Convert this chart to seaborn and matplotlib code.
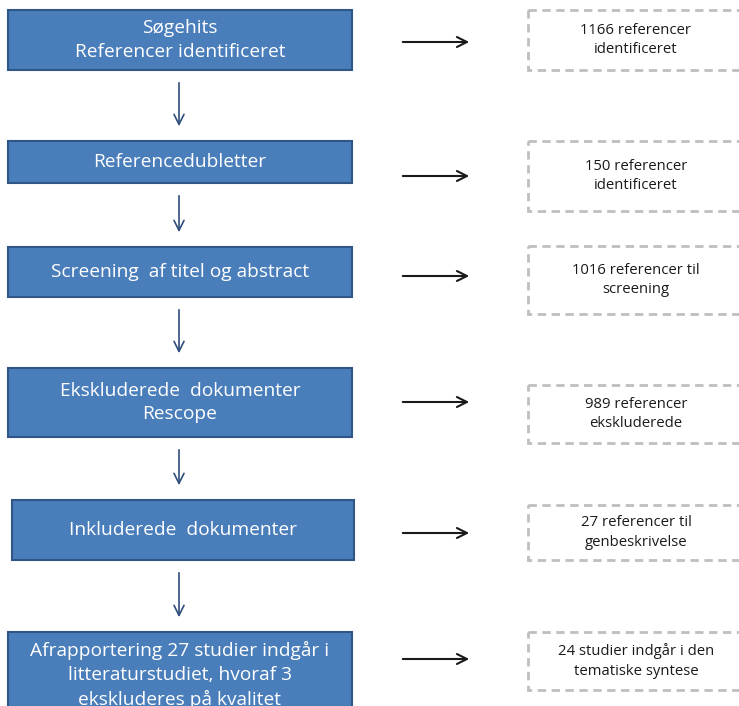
import matplotlib
matplotlib.use("Agg")
import matplotlib.pyplot as plt
from matplotlib.patches import Rectangle
import seaborn as sns

# tekst i de blaa trin
trin = ["Søgehits\nReferencer identificeret",
        "Referencedubletter",
        "Screening  af titel og abstract",
        "Ekskluderede  dokumenter\nRescope",
        "Inkluderede  dokumenter",
        "Afrapportering 27 studier indgår i\nlitteraturstudiet, hvoraf 3\nekskluderes på kvalitet"]

# tekst i de stiplede bokse
resultat = ["1166 referencer\nidentificeret",
            "150 referencer\nidentificeret",
            "1016 referencer til\nscreening",
            "989 referencer\nekskluderede",
            "27 referencer til\ngenbeskrivelse",
            "24 studier indgår i den\ntematiske syntese"]

# placering (pixel) af bokse: x0, x1, top, bund
blaa_x = [(8, 352), (8, 352), (8, 352), (8, 352), (12, 354), (8, 352)]
blaa_y = [(10, 70), (141, 183), (247, 297), (368, 437), (500, 560), (632, 730)]
stiplet_y = [(10, 70), (141, 211), (246, 314), (385, 443), (505, 560), (632, 690)]
pil_y = [42, 176, 276, 402, 533, 659]

sns.set_theme(style="white")
plt.rcParams['font.family'] = ['Open Sans', 'DejaVu Sans']

fig = plt.figure(figsize=(7.39, 7.06), dpi=100)
ax = fig.add_axes([0, 0, 1, 1])
ax.set_xlim(0, 739)
ax.set_ylim(706, 0)
ax.axis('off')

for i, tekst in enumerate(trin):
    x0, x1 = blaa_x[i]
    y0, y1 = blaa_y[i]
    ax.add_patch(Rectangle((x0, y0), x1 - x0, y1 - y0, facecolor='#4a7ebb',
                           edgecolor='#2f5686', linewidth=1.5))
    if i == len(trin) - 1:
        ty = y0 + 43
    else:
        ty = (y0 + y1) / 2
    ax.text((x0 + x1) / 2, ty, tekst, color='white', fontsize=13.8,
            ha='center', va='center', linespacing=1.4)

    # pil ned til naeste trin
    if i < len(trin) - 1:
        ax.annotate('', xy=(179, blaa_y[i + 1][0] - 12), xytext=(179, y1 + 10),
                    arrowprops=dict(arrowstyle='->', color='#2f4f7a', lw=1.2,
                                    mutation_scale=18))

    # pil mod hoejre
    ax.annotate('', xy=(472, pil_y[i]), xytext=(400, pil_y[i]),
                arrowprops=dict(arrowstyle='->', color='#1a1a1a', lw=1.5,
                                mutation_scale=18))

    # stiplet boks
    sy0, sy1 = stiplet_y[i]
    ax.add_patch(Rectangle((528, sy0), 240, sy1 - sy0, facecolor='none',
                           edgecolor='#bfbfbf', linewidth=2, linestyle=(0, (3, 2))))
    ax.text(636, (sy0 + sy1) / 2, resultat[i], color='#1a1a1a', fontsize=10.7,
            ha='center', va='center', linespacing=1.45)

fig.savefig("out.png", dpi=100)
